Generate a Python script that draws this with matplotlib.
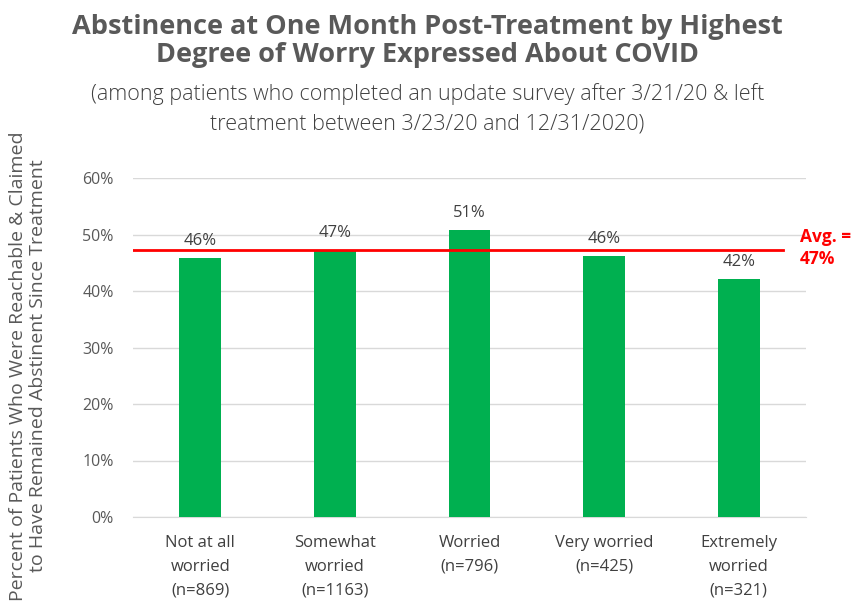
import matplotlib
matplotlib.use("Agg")
import matplotlib.pyplot as plt
from matplotlib.ticker import PercentFormatter

# data
categories = ["Not at all\nworried\n(n=869)", "Somewhat\nworried\n(n=1163)",
              "Worried\n(n=796)", "Very worried\n(n=425)", "Extremely\nworried\n(n=321)"]
abstinent = [45.9, 47.2, 50.8, 46.2, 42.2]
bar_labels = ["46%", "47%", "51%", "46%", "42%"]
average = 47.2
avg_label = "Avg. =\n47%"

plt.rcParams['font.family'] = ['Open Sans', 'DejaVu Sans']

fig = plt.figure(figsize=(8.55, 6.02), dpi=100)
ax = fig.add_axes([133/855, 85/602, 673/855, 339/602])

x = list(range(len(categories)))
ax.bar(x, abstinent, width=0.31, color="#00b050", zorder=3)
for xi, v, lab in zip(x, abstinent, bar_labels):
    ax.text(xi, v + 1.6, lab, ha="center", va="bottom", fontsize=12, color="#404040")

ax.plot([-0.5, 4.33], [average, average], color="#ff0000", lw=2, zorder=4)
fig.text(800/855, 1 - 248/602, avg_label, color="#ff0000", fontsize=12.5,
         fontweight="bold", ha="left", va="center", linespacing=1.35)

ax.set_xlim(-0.5, 4.5)
ax.set_ylim(0, 60)
ax.set_yticks(range(0, 61, 10))
ax.yaxis.set_major_formatter(PercentFormatter(decimals=0))
ax.set_xticks(x)
ax.set_xticklabels(categories, fontsize=12, color="#404040", linespacing=1.65)
ax.tick_params(axis="y", labelsize=11.5, labelcolor="#595959", length=0, pad=14)
ax.tick_params(axis="x", length=0, pad=13)
ax.grid(axis="y", color="#d9d9d9", lw=1, zorder=0)
for s in ["top", "right", "left"]:
    ax.spines[s].set_visible(False)
ax.spines["bottom"].set_color("#d9d9d9")

fig.text(28/855, 1 - 366/602,
         "Percent of Patients Who Were Reachable & Claimed\nto Have Remained Abstinent Since Treatment",
         rotation=90, ha="center", va="center", fontsize=14, color="#595959", linespacing=1.15)

fig.text(0.5, 1 - 41/602, "Abstinence at One Month Post-Treatment by Highest\nDegree of Worry Expressed About COVID",
         ha="center", va="center", fontsize=19.5, fontweight="bold", color="#595959", linespacing=1.15)
fig.text(0.5, 1 - 109/602, "(among patients who completed an update survey after 3/21/20 & left\ntreatment between 3/23/20 and 12/31/2020)",
         ha="center", va="center", fontsize=15.5, fontweight="light", color="#404040", linespacing=1.5)

fig.savefig("out.png", dpi=100)
